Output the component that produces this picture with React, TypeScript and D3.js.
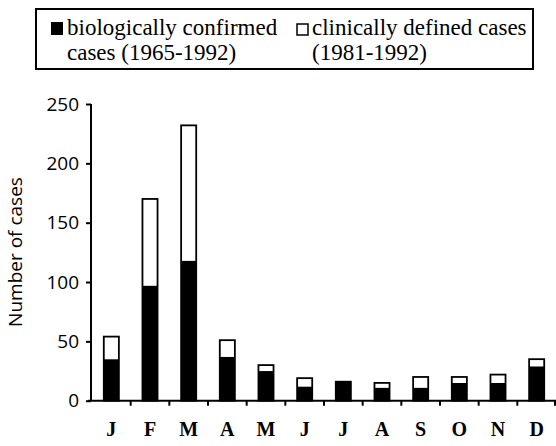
import React, { useEffect, useRef } from 'react';
import * as d3 from 'd3';

const monthKeys = ['Jan', 'Feb', 'Mar', 'Apr', 'May', 'Jun', 'Jul', 'Aug', 'Sep', 'Oct', 'Nov', 'Dec'];
const monthLabels = ['J', 'F', 'M', 'A', 'M', 'J', 'J', 'A', 'S', 'O', 'N', 'D'];
const confirmedCases = [35, 97, 118, 37, 25, 12, 16, 11, 11, 15, 15, 29];
const clinicalCases = [19, 73, 114, 14, 5, 7, 0, 4, 9, 5, 7, 6];
const yTicks = [0, 50, 100, 150, 200, 250];

const W = 556;
const H = 446;
const SERIF = "'Liberation Serif', 'Times New Roman', serif";
const SANS = "'Open Sans', sans-serif";

const App: React.FC = () => {
  const ref = useRef<HTMLDivElement | null>(null);

  useEffect(() => {
    if (!ref.current) return;
    d3.select(ref.current).selectAll('*').remove();

    const svg = d3.select(ref.current)
      .append('svg')
      .attr('width', W)
      .attr('height', H)
      .style('position', 'absolute')
      .style('left', '0px')
      .style('top', '0px')
      .style('background', '#fff');

    const rows = monthKeys.map((m, i) => ({
      month: m,
      confirmed: confirmedCases[i],
      clinical: clinicalCases[i],
    }));

    const x = d3.scaleBand<string>()
      .domain(monthKeys)
      .range([92, 556]);

    const y = d3.scaleLinear()
      .domain([0, 250])
      .range([400.7, 104]);

    const stack = d3.stack<any>().keys(['confirmed', 'clinical']);
    const series = stack(rows);

    const barW = x.bandwidth() * 0.39;
    const cx = (m: string) => (x(m) || 0) + x.bandwidth() / 2;

    // bars: black for confirmed, white for clinical
    const fills = ['#000', '#fff'];
    series.forEach((s, si) => {
      svg.append('g')
        .selectAll('rect')
        .data(s)
        .enter()
        .append('rect')
        .attr('x', d => cx(d.data.month) - barW / 2)
        .attr('y', d => y(d[1]))
        .attr('width', barW)
        .attr('height', d => y(d[0]) - y(d[1]))
        .attr('fill', fills[si]);
    });

    // outline around the whole bar
    svg.append('g')
      .selectAll('rect')
      .data(rows)
      .enter()
      .append('rect')
      .attr('x', d => cx(d.month) - barW / 2)
      .attr('y', d => y(d.confirmed + d.clinical))
      .attr('width', barW)
      .attr('height', d => y(0) - y(d.confirmed + d.clinical))
      .attr('fill', 'none')
      .attr('stroke', '#000')
      .attr('stroke-width', 1.8);

    // y axis
    const yAxis = svg.append('g')
      .attr('transform', 'translate(91,0)')
      .call(d3.axisLeft(y).tickValues(yTicks).tickSize(5).tickPadding(7));
    yAxis.select('.domain').attr('stroke-width', 2).attr('d', `M0,${y(250)}V${y(0)}`);
    yAxis.selectAll('.tick line').attr('stroke-width', 2);
    yAxis.selectAll('text')
      .attr('font-family', SANS)
      .attr('font-size', 19)
      .attr('fill', '#000');

    // x axis
    const xAxis = svg.append('g')
      .attr('transform', `translate(0,${y(0)})`)
      .call(d3.axisBottom(x).tickSize(0).tickFormat((_, i) => monthLabels[i]).tickPadding(21));
    xAxis.select('.domain').attr('stroke-width', 2).attr('d', 'M88,0H556');
    xAxis.selectAll('text')
      .attr('font-family', SERIF)
      .attr('font-size', 20)
      .attr('font-weight', 'bold')
      .attr('fill', '#000');

    // band boundary ticks
    xAxis.append('g')
      .selectAll('line')
      .data(monthKeys.slice(1).concat(['end']))
      .enter()
      .append('line')
      .attr('x1', d => d === 'end' ? 555 : (x(d) || 0))
      .attr('x2', d => d === 'end' ? 555 : (x(d) || 0))
      .attr('y1', 0)
      .attr('y2', 5)
      .attr('stroke', '#000')
      .attr('stroke-width', 2);

    // y label
    svg.append('text')
      .attr('transform', 'translate(22,252) rotate(-90)')
      .attr('text-anchor', 'middle')
      .attr('font-family', SANS)
      .attr('font-size', 19)
      .text('Number of cases');

    // legend
    const lg = svg.append('g');
    lg.append('rect')
      .attr('x', 36).attr('y', 9).attr('width', 497).attr('height', 60)
      .attr('fill', 'none').attr('stroke', '#000').attr('stroke-width', 2);
    lg.append('rect')
      .attr('x', 51).attr('y', 22).attr('width', 12).attr('height', 13)
      .attr('fill', '#000');
    lg.append('rect')
      .attr('x', 297).attr('y', 24).attr('width', 11).attr('height', 11)
      .attr('fill', '#fff').attr('stroke', '#000').attr('stroke-width', 1.5);
    const legendText = [
      { x: 67, y: 35, t: 'biologically confirmed' },
      { x: 67, y: 60, t: 'cases (1965-1992)' },
      { x: 312, y: 35, t: 'clinically defined cases' },
      { x: 312, y: 60, t: '(1981-1992)' },
    ];
    lg.selectAll('text')
      .data(legendText)
      .enter()
      .append('text')
      .attr('x', d => d.x)
      .attr('y', d => d.y)
      .attr('font-family', SERIF)
      .attr('font-size', 23)
      .attr('fill', '#000')
      .text(d => d.t);
  }, []);

  return <div ref={ref} />;
};

export default App;
